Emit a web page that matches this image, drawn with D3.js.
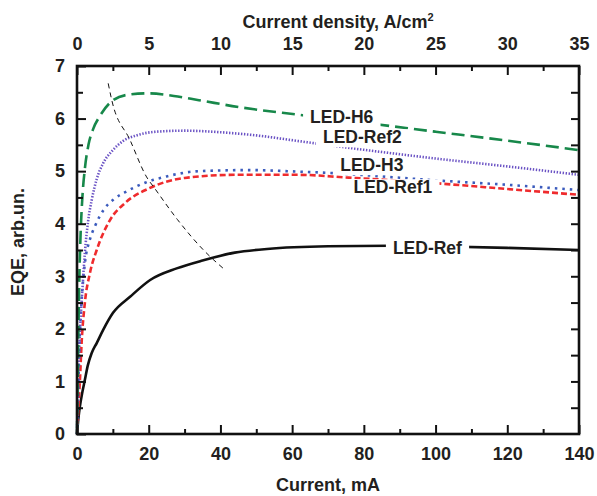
<!DOCTYPE html>
<html>
<head>
<meta charset="utf-8">
<script src="https://cdn.jsdelivr.net/npm/d3@7"></script>
<style>
  body { margin: 0; background: #fff; }
  svg text { font-family: "Liberation Sans", Arial, sans-serif; font-weight: bold; fill: #231f20; }
</style>
</head>
<body>
<div id="chart"></div>
<script>
// EQE curves, current in mA vs EQE in arb. units
const ledRef = [[0,0],[0.4,0.3],[0.8,0.52],[1.5,0.8],[2.2,1.03],[3,1.3],[4.1,1.54],[5.5,1.73],[7.3,1.98],[10,2.3],[14.8,2.61],[20.4,2.93],[27.8,3.15],[35,3.3],[44,3.45],[53,3.52],[70,3.57],[87,3.58],[100,3.57],[120,3.54],[140,3.5]];
const ledRef1 = [[0,0],[0.4,0.5],[0.8,1.0],[1.3,1.75],[2.2,2.5],[3.6,3.06],[5.5,3.5],[9.2,4.07],[13.5,4.4],[20,4.67],[30,4.87],[44,4.93],[62,4.93],[75,4.88],[100,4.77],[120,4.66],[140,4.55]];
const ledH3 = [[0,0],[0.4,1.0],[0.8,1.9],[1.3,2.55],[2.2,3.25],[3.6,3.7],[5,3.95],[7.8,4.3],[10,4.45],[14,4.62],[19,4.78],[25,4.9],[34,5.0],[48,5.02],[62,4.99],[72,4.96],[85,4.9],[99,4.83],[120,4.74],[140,4.64]];
const ledRef2 = [[0,0],[0.4,1.2],[0.8,1.9],[1.6,2.85],[2.2,3.45],[3.1,4.05],[4.1,4.45],[5.5,4.85],[7.3,5.15],[10,5.4],[13,5.58],[16.6,5.68],[22,5.75],[30,5.77],[40,5.74],[50,5.68],[62,5.57],[75,5.45],[89,5.33],[100,5.24],[120,5.09],[140,4.93]];
const ledH6 = [[0,0],[0.3,1.5],[0.6,2.8],[1.0,3.8],[1.5,4.5],[2.2,5.05],[3.2,5.5],[4.5,5.8],[6.4,6.05],[9.2,6.3],[13.9,6.45],[20,6.48],[27,6.43],[34,6.35],[45,6.22],[62,6.07],[80,5.92],[100,5.75],[120,5.58],[140,5.4]];
// thin guide line through the EQE maxima
const peakGuide = [[8.7,6.67],[9.7,6.35],[14.8,5.59],[19.4,4.89],[21.7,4.67],[28,4.08],[35.7,3.47],[41.3,3.12]];

const seriesNames = ['LED-Ref', 'LED-Ref1', 'LED-H3', 'LED-Ref2', 'LED-H6'];
const seriesData = [ledRef, ledRef1, ledH3, ledRef2, ledH6];
const seriesColors = ['#111111', '#ef2b2d', '#3b5bbd', '#6a52c4', '#17884a'];
const seriesDash = ['none', '6,3', '2.5,5', '1.4,1.6', '13,6'];

// label anchor points (mA, EQE) for the curve annotations
const labelNames = ['LED-H6', 'LED-Ref2', 'LED-H3', 'LED-Ref1', 'LED-Ref'];
const labelX = [65, 68.6, 73.4, 77.1, 88.1];
const labelY = [5.92, 5.53, 5.0, 4.58, 3.42];

const xTicks = [0, 20, 40, 60, 80, 100, 120, 140];
const topTicks = [0, 5, 10, 15, 20, 25, 30, 35];
const yTicks = [0, 1, 2, 3, 4, 5, 6, 7];

const width = 597, height = 496;
const margin = { top: 66, right: 18, bottom: 62, left: 77 };
const plotW = width - margin.left - margin.right;
const plotH = height - margin.top - margin.bottom;

const svg = d3.select('#chart').append('svg')
    .attr('width', width)
    .attr('height', height);

const g = svg.append('g')
    .attr('transform', `translate(${margin.left},${margin.top})`);

const x = d3.scaleLinear().domain([0, 140]).range([0, plotW]);
const xTop = d3.scaleLinear().domain([0, 35]).range([0, plotW]);
const y = d3.scaleLinear().domain([0, 7]).range([plotH, 0]);

const line = d3.line()
    .x(d => x(d[0]))
    .y(d => y(d[1]))
    .curve(d3.curveMonotoneX);

// curves
seriesData.forEach((data, i) => {
    g.append('path')
        .datum(data)
        .attr('d', line)
        .attr('fill', 'none')
        .attr('stroke', seriesColors[i])
        .attr('stroke-width', 2.6)
        .attr('stroke-dasharray', seriesDash[i]);
});

g.append('path')
    .datum(peakGuide)
    .attr('d', line)
    .attr('fill', 'none')
    .attr('stroke', '#111')
    .attr('stroke-width', 1)
    .attr('stroke-dasharray', '5,4');

// labels with white boxes behind them
const boxes = g.append('g');
const texts = g.append('g');
labelNames.forEach((name, i) => {
    const t = texts.append('text')
        .attr('x', x(labelX[i]))
        .attr('y', y(labelY[i]))
        .attr('font-size', '17.5px')
        .text(name);
    const bb = t.node().getBBox();
    boxes.append('rect')
        .attr('x', bb.x - 7)
        .attr('y', bb.y + 2)
        .attr('width', bb.width + 14)
        .attr('height', bb.height - 2)
        .attr('fill', '#fff');
});

// axes - ticks point inward
function styleAxis(sel) {
    sel.select('.domain').remove();
    sel.selectAll('line').attr('stroke', '#111').attr('stroke-width', 2);
    sel.selectAll('text').attr('font-size', '18px').attr('fill', '#231f20')
        .attr('font-family', '"Liberation Sans", Arial, sans-serif').attr('font-weight', 'bold');
}

g.append('g')
    .attr('transform', `translate(0,${plotH})`)
    .call(d3.axisBottom(x).tickValues(xTicks).tickSize(-9).tickPadding(13).tickFormat(d3.format('d')))
    .call(styleAxis);
g.append('g')
    .attr('transform', `translate(0,${plotH})`)
    .call(d3.axisBottom(x).tickValues(d3.range(10, 140, 20)).tickSize(-5).tickFormat(''))
    .call(styleAxis);

g.append('g')
    .call(d3.axisTop(xTop).tickValues(topTicks).tickSize(-9).tickPadding(16).tickFormat(d3.format('d')))
    .call(styleAxis);
g.append('g')
    .call(d3.axisTop(xTop).tickValues(d3.range(2.5, 35, 5)).tickSize(-5).tickFormat(''))
    .call(styleAxis);

g.append('g')
    .call(d3.axisLeft(y).tickValues(yTicks).tickSize(-9).tickPadding(12).tickFormat(d3.format('d')))
    .call(styleAxis);
g.append('g')
    .call(d3.axisLeft(y).tickValues(d3.range(0.5, 7, 1)).tickSize(-6).tickFormat(''))
    .call(styleAxis);

g.append('g')
    .attr('transform', `translate(${plotW},0)`)
    .call(d3.axisRight(y).tickValues(d3.range(0.5, 7, 0.5)).tickSize(-8).tickFormat(''))
    .call(styleAxis);

// frame
g.append('rect')
    .attr('width', plotW)
    .attr('height', plotH)
    .attr('fill', 'none')
    .attr('stroke', '#111')
    .attr('stroke-width', 2.6);

// axis titles
svg.append('text')
    .attr('x', margin.left + plotW / 2)
    .attr('y', 491)
    .attr('text-anchor', 'middle')
    .attr('font-size', '18px')
    .text('Current, mA');

const topTitle = svg.append('text')
    .attr('x', 338)
    .attr('y', 28)
    .attr('text-anchor', 'middle')
    .attr('font-size', '18px');
topTitle.append('tspan').text('Current density, A/cm');
topTitle.append('tspan').attr('dy', -7).attr('font-size', '11px').text('2');

svg.append('text')
    .attr('transform', 'translate(24,242) rotate(-90)')
    .attr('text-anchor', 'middle')
    .attr('font-size', '18px')
    .text('EQE, arb.un.');
</script>
</body>
</html>
